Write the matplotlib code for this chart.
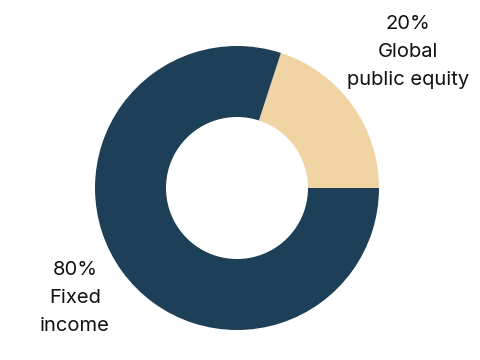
import matplotlib
matplotlib.use("Agg")
import matplotlib.pyplot as plt

categories = ["Global\npublic equity", "Fixed\nincome"]
values = [20, 80]
colors = ["#f0d4a3", "#1d3f58"]

plt.rcParams['font.family'] = ['Inter', 'DejaVu Sans']

fig = plt.figure(figsize=(4.8, 3.6), dpi=100)
ax = fig.add_axes([0, 0, 1, 1])

ax.pie(values, colors=colors, startangle=0, counterclock=True,
       center=(237, 360 - 188), radius=142,
       wedgeprops=dict(width=71, linewidth=0), frame=True)
ax.set_xlim(0, 480)
ax.set_ylim(0, 360)
ax.set_aspect('equal')
ax.axis('off')

label_pos = [(408, 360 - 52), (75, 360 - 298)]
for cat, v, (x, y) in zip(categories, values, label_pos):
    ax.text(x, y, f"{v}%\n{cat}", ha='center', va='center',
            multialignment='center', fontsize=14.5, linespacing=1.7,
            color='#111111')

fig.savefig("out.png", dpi=100)
